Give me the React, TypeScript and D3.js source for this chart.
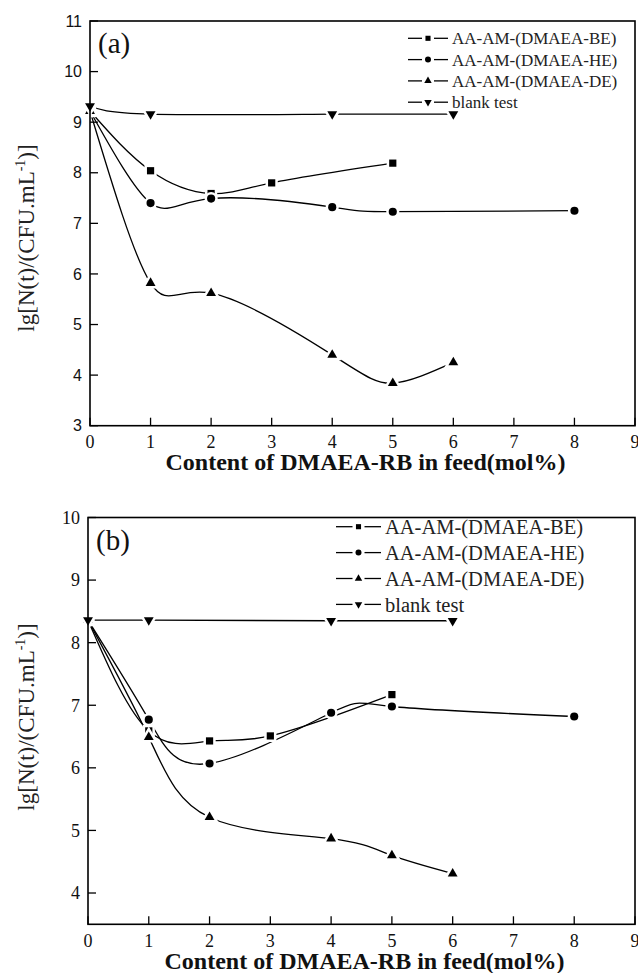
import React from 'react'
import * as d3 from 'd3'

// legend labels, shared by both panels
const seriesNames = ['AA-AM-(DMAEA-BE)', 'AA-AM-(DMAEA-HE)', 'AA-AM-(DMAEA-DE)', 'blank test']
const xTicks = [0, 1, 2, 3, 4, 5, 6, 7, 8, 9]

// panel (a)
const aBeX = [0, 1, 2, 3, 5]
const aBeY = [9.22, 8.04, 7.59, 7.8, 8.19]
const aHeX = [0, 1, 2, 4, 5, 8]
const aHeY = [9.22, 7.4, 7.49, 7.32, 7.23, 7.25]
const aDeX = [0, 1, 2, 4, 5, 6]
const aDeY = [9.22, 5.82, 5.62, 4.4, 3.84, 4.25]
const aBlankX = [0, 1, 4, 6]
const aBlankY = [9.32, 9.16, 9.16, 9.16]
const aYTicks = [3, 4, 5, 6, 7, 8, 9, 10, 11]

// panel (b)
const bBeX = [0, 1, 2, 3, 5]
const bBeY = [8.36, 6.59, 6.43, 6.51, 7.17]
const bHeX = [0, 1, 2, 4, 5, 8]
const bHeY = [8.36, 6.77, 6.07, 6.88, 6.98, 6.82]
const bDeX = [0, 1, 2, 4, 5, 6]
const bDeY = [8.36, 6.49, 5.21, 4.87, 4.6, 4.31]
const bBlankX = [0, 1, 4, 6]
const bBlankY = [8.36, 8.36, 8.35, 8.35]
const bYTicks = [4, 5, 6, 7, 8, 9, 10]

const serif = '"Liberation Serif", "Times New Roman", serif'
const sans = '"Liberation Sans", Arial, sans-serif'

const symbols = [d3.symbolSquare, d3.symbolCircle, d3.symbolTriangle, d3.symbolTriangle]
const rotations = [0, 0, 0, 180]
const plotSizes = [52, 52, 42, 42]
const legendSizes = [26, 28, 24, 24]

const zip = (xs: number[], ys: number[]) => xs.map((x, i) => [x, ys[i]] as [number, number])

function Marker({ i, x, y, size, halo }: { i: number; x: number; y: number; size: number; halo?: boolean }) {
  const d = d3.symbol(symbols[i], size)() || ''
  const tr = `translate(${x},${y}) rotate(${rotations[i]})`
  return (
    <g transform={tr}>
      {halo && <path d={d} fill="#fff" stroke="#fff" strokeWidth={5} />}
      <path d={d} fill="#000" />
    </g>
  )
}

function Panel(props: any) {
  const { box, yDomain, yTicks, series, curves, label, tickFont, tickSize, legend, titleY, xLabelY } = props
  const x = d3.scaleLinear().domain([0, 9]).range([box.left, box.right])
  const y = d3.scaleLinear().domain(yDomain).range([box.bottom, box.top])

  return (
    <g>
      {/* series lines */}
      {series.map((pts: [number, number][], i: number) => {
        const line = d3
          .line<[number, number]>()
          .x((d) => x(d[0]))
          .y((d) => y(d[1]))
          .curve(curves[i])
        return <path key={'l' + i} d={line(pts) || ''} fill="none" stroke="#000" strokeWidth={1.3} />
      })}
      {/* markers with white gap */}
      {series.map((pts: [number, number][], i: number) =>
        pts.map((p, j) => <Marker key={`m${i}-${j}`} i={i} x={x(p[0])} y={y(p[1])} size={plotSizes[i]} halo />)
      )}

      {/* frame */}
      <rect
        x={box.left}
        y={box.top}
        width={box.right - box.left}
        height={box.bottom - box.top}
        fill="none"
        stroke="#000"
        strokeWidth={1.6}
      />

      {/* x ticks */}
      {xTicks.map((t) => (
        <g key={'x' + t}>
          <line x1={x(t)} x2={x(t)} y1={box.bottom} y2={box.bottom - 8} stroke="#000" strokeWidth={1.3} />
          <text x={x(t)} y={xLabelY} textAnchor="middle" fontFamily={serif} fontSize={18} fill="#111">
            {t}
          </text>
        </g>
      ))}
      {/* y ticks */}
      {yTicks.map((t: number) => (
        <g key={'y' + t}>
          <line x1={box.left} x2={box.left + 8} y1={y(t)} y2={y(t)} stroke="#000" strokeWidth={1.3} />
          <text
            x={box.left - 8}
            y={y(t)}
            dy="0.35em"
            textAnchor="end"
            fontFamily={tickFont}
            fontSize={tickSize}
            fill="#111"
          >
            {t}
          </text>
        </g>
      ))}

      {/* axis titles */}
      <text
        x={(box.left + box.right) / 2 + 3}
        y={xLabelY + 22}
        textAnchor="middle"
        fontFamily={serif}
        fontWeight="bold"
        fontSize={24}
        fill="#111"
      >
        Content of DMAEA-RB in feed(mol%)
      </text>
      <text
        transform={`translate(34,${titleY}) rotate(-90)`}
        textAnchor="middle"
        fontFamily={serif}
        fontSize={23}
        fill="#222"
      >
        lg[N(t)/(CFU.mL
        <tspan fontSize={14} dy={-9}>
          -1
        </tspan>
        <tspan dy={9}>)]</tspan>
      </text>

      {/* panel label */}
      <text x={box.left + 8} y={box.top + 32} fontFamily={serif} fontSize={29} fill="#111">
        {label}
      </text>

      {/* legend */}
      {seriesNames.map((name, i) => {
        const cy = legend.y0 + i * legend.dy
        const mx = (legend.x0 + legend.x1) / 2
        return (
          <g key={'g' + i}>
            <line x1={legend.x0} x2={mx - 6} y1={cy} y2={cy} stroke="#000" strokeWidth={1.3} />
            <line x1={mx + 6} x2={legend.x1} y1={cy} y2={cy} stroke="#000" strokeWidth={1.3} />
            <Marker i={i} x={mx} y={cy} size={legendSizes[i]} />
            <text x={legend.x1 + 4} y={cy} dy="0.35em" fontFamily={serif} fontSize={legend.font} fill="#222">
              {name}
            </text>
          </g>
        )
      })}
    </g>
  )
}

export default function App() {
  const seriesA = [zip(aBeX, aBeY), zip(aHeX, aHeY), zip(aDeX, aDeY), zip(aBlankX, aBlankY)]
  const seriesB = [zip(bBeX, bBeY), zip(bHeX, bHeY), zip(bDeX, bDeY), zip(bBlankX, bBlankY)]
  return (
    <svg
      width={638}
      height={973}
      style={{ position: 'absolute', left: 0, top: 0, background: '#fff' }}
    >
      <rect width={638} height={973} fill="#fff" />
      <Panel
        box={{ left: 90, right: 635, top: 21, bottom: 425.7 }}
        yDomain={[3, 11]}
        yTicks={aYTicks}
        series={seriesA}
        curves={[d3.curveNatural, d3.curveNatural, d3.curveNatural, d3.curveNatural]}
        label="(a)"
        tickFont={sans}
        tickSize={16}
        titleY={238}
        xLabelY={448}
        legend={{ x0: 408, x1: 448, y0: 38.3, dy: 21.3, font: 17 }}
      />
      <Panel
        box={{ left: 88, right: 635, top: 517.5, bottom: 924.3 }}
        yDomain={[3.5, 10]}
        yTicks={bYTicks}
        series={seriesB}
        curves={[d3.curveNatural, d3.curveNatural, d3.curveNatural, d3.curveLinear]}
        label="(b)"
        tickFont={serif}
        tickSize={18}
        titleY={717}
        xLabelY={946.5}
        legend={{ x0: 336, x1: 381, y0: 526.7, dy: 25.9, font: 20.5 }}
      />
    </svg>
  )
}
